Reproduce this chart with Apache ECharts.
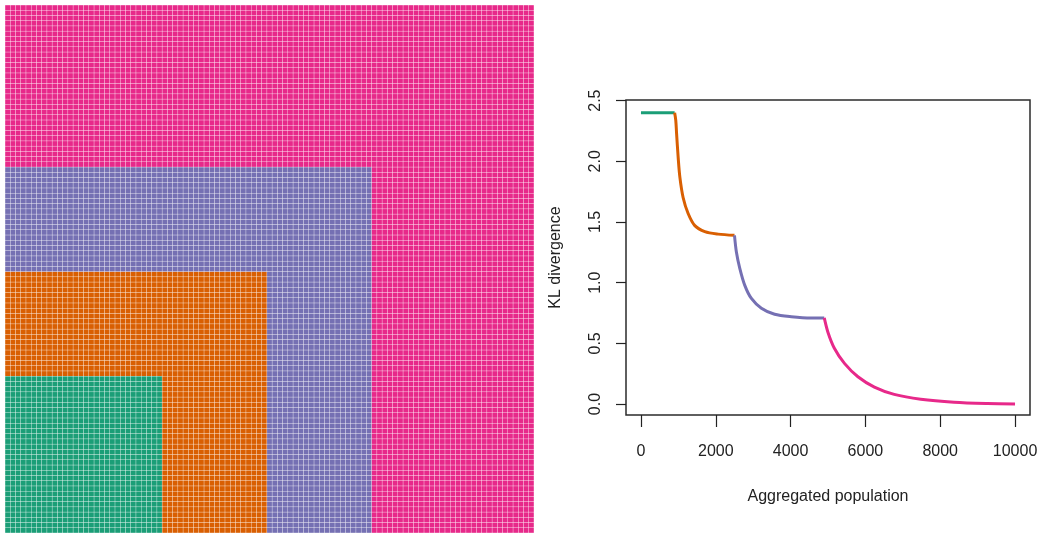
<!DOCTYPE html>
<html>
<head>
<meta charset="utf-8">
<script src="https://cdn.jsdelivr.net/npm/echarts@6/dist/echarts.min.js"></script>
<style>
  html, body { margin: 0; padding: 0; background: #ffffff; }
  #chart { width: 1045px; height: 536px; }
</style>
</head>
<body>
<div id="chart"></div>
<script>
// Lattice of cells; nested squares anchored at the bottom-left corner (side lengths in cells)
const latticeCells = 101;
const squareSides = [30, 50, 70, latticeCells];
const groupColors = ['#1B9E77', '#D95F02', '#7570B3', '#E7298A'];

// KL divergence against aggregated population, one curve per square
const greenCurve = [[0, 2.40], [900, 2.40]];
const orangeCurve = [
  [900, 2.40], [930, 2.34], [952, 2.23], [995, 2.03], [1040, 1.87], [1128, 1.70],
  [1261, 1.57], [1440, 1.47], [1707, 1.42], [2061, 1.40], [2500, 1.39]
];
const purpleCurve = [
  [2500, 1.39], [2552, 1.25], [2640, 1.12], [2773, 0.98], [2952, 0.87],
  [3219, 0.79], [3573, 0.74], [4019, 0.72], [4552, 0.71], [4900, 0.71]
];
const pinkCurve = [
  [4900, 0.71], [5000, 0.59], [5170, 0.46], [5440, 0.335], [5800, 0.225],
  [6240, 0.14], [6770, 0.08], [7480, 0.04], [8370, 0.015], [9260, 0.004], [10000, 0.0]
];
const curves = [greenCurve, orangeCurve, purpleCurve, pinkCurve];

// Axis tick labels
const xTicks = [0, 2000, 4000, 6000, 8000, 10000];
const yTicks = [0, 0.5, 1.0, 1.5, 2.0, 2.5];

// Assign every lattice cell to the smallest square that contains it
const cellGroups = squareSides.map(() => []);
for (let i = 0; i < latticeCells; i++) {
  for (let j = 0; j < latticeCells; j++) {
    const g = squareSides.findIndex(s => i < s && j < s);
    cellGroups[g].push([i, j]);
  }
}

const chart = echarts.init(document.getElementById('chart'), null, { renderer: 'canvas' });
const font = 'Liberation Sans, Arial, sans-serif';
const ink = '#222222';

const series = [];
cellGroups.forEach((cells, g) => {
  series.push({
    type: 'scatter',
    xAxisIndex: 0,
    yAxisIndex: 0,
    symbol: 'rect',
    symbolSize: 4.85,
    itemStyle: { color: groupColors[g], opacity: 1 },
    data: cells,
    silent: true,
    animation: false
  });
});
curves.forEach((pts, g) => {
  series.push({
    type: 'line',
    xAxisIndex: 1,
    yAxisIndex: 1,
    data: pts,
    showSymbol: false,
    smooth: 0.3,
    lineStyle: { color: groupColors[g], width: 3, cap: 'butt', join: 'round' },
    itemStyle: { color: groupColors[g] },
    z: 3,
    animation: false
  });
});

chart.setOption({
  backgroundColor: '#ffffff',
  animation: false,
  grid: [
    { left: 5, top: 5, width: 529, height: 528, show: false },
    { left: 626, top: 100, width: 404, height: 315, show: true,
      borderColor: '#2b2b2b', borderWidth: 1.5, backgroundColor: 'transparent' }
  ],
  xAxis: [
    { gridIndex: 0, type: 'value', min: -0.5, max: latticeCells - 0.5, show: false },
    {
      gridIndex: 1, type: 'value', min: -400, max: 10400,
      axisLine: { show: false, onZero: false },
      splitLine: { show: false },
      axisTick: { show: true, length: 12, customValues: xTicks,
        lineStyle: { color: ink, width: 1.2 } },
      axisLabel: { customValues: xTicks, margin: 29, color: ink, fontSize: 16,
        fontFamily: font, formatter: v => String(v) },
      name: 'Aggregated population',
      nameLocation: 'middle',
      nameGap: 74,
      nameTextStyle: { color: ink, fontSize: 16, fontFamily: font }
    }
  ],
  yAxis: [
    { gridIndex: 0, type: 'value', min: -0.5, max: latticeCells - 0.5, show: false },
    {
      gridIndex: 1, type: 'value', min: -0.09, max: 2.505,
      axisLine: { show: false, onZero: false },
      splitLine: { show: false },
      axisTick: { show: true, length: 10, customValues: yTicks,
        lineStyle: { color: ink, width: 1.2 } },
      axisLabel: { customValues: yTicks, rotate: 90, margin: 22, color: ink, fontSize: 16,
        fontFamily: font, formatter: v => v.toFixed(1) },
      name: 'KL divergence',
      nameLocation: 'middle',
      nameGap: 62,
      nameTextStyle: { color: ink, fontSize: 16, fontFamily: font }
    }
  ],
  series: series
});
</script>
</body>
</html>
